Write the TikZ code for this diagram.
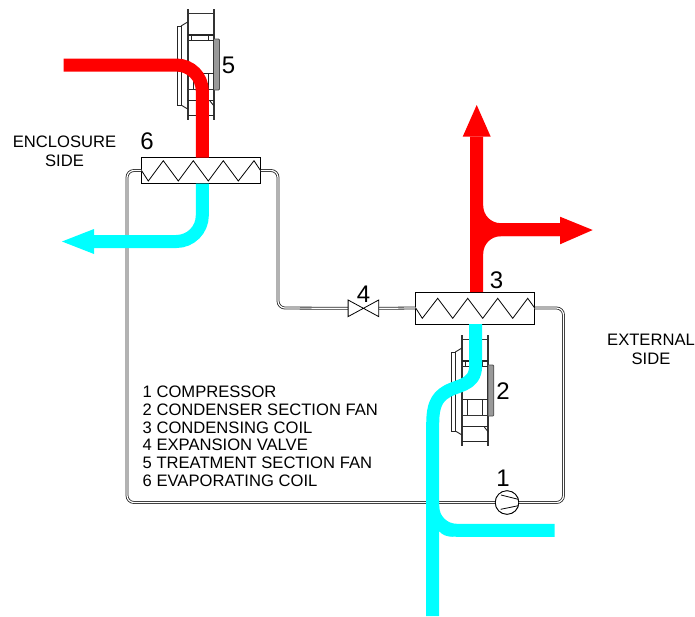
\documentclass[tikz,border=0pt]{standalone}
\usepackage{fontspec}
\setmainfont{Liberation Sans}
\begin{document}
\begin{tikzpicture}[x=1pt,y=-1pt,
  coil/.style={draw=black,line width=.8pt,fill=white,minimum width=119pt,inner sep=0pt,outer sep=0pt},
  pipe/.style={draw=black!85,line width=.8pt,double=white,double distance=1.2pt,rounded corners=7pt},
  hot/.style={draw=red,line width=13pt,rounded corners=26pt},
  cold/.style={draw=cyan,line width=13pt,rounded corners=26pt},
  zig/.style={draw=black,line width=.8pt},
  fanline/.style={draw=black!85,line width=.9pt},
  fanthick/.style={draw=black!80,line width=1.9pt},
  num/.style={font=\fontsize{24}{24}\selectfont,inner sep=0pt},
  lab/.style={font=\fontsize{16.6}{19}\selectfont,inner sep=0pt,align=center},
  legend/.style={font=\fontsize{16.6}{17.7}\selectfont,inner sep=0pt,align=left,anchor=north west}]
\definecolor{cyan}{RGB}{0,255,255}
\useasboundingbox (0,0) rectangle (695,616);
\fill[white] (0,0) rectangle (695,616);
% fans
\newcommand{\drawfan}{%
  \draw[fanthick] (187.7,9) -- (187.7,120);
  \draw[fanthick] (214,9) -- (214,120);
  \draw[fanthick] (187.7,13.5) -- (214,13.5);
  \draw[fanline] (177.5,26) rectangle (181,105);
  \draw[fanline] (181,26) -- (187.7,22);
  \draw[fanline] (181,105) -- (187.7,109);
  \draw[fanline,line width=1.2pt] (187.7,35) -- (214,35);
  \draw[fanline] (189,40) -- (214,40);
  \draw[fanline] (191,36) -- (191,40) (208.5,36) -- (208.5,40);
  \draw[draw=black!70,fill=black!40,line width=.8pt] (214,39) -- (218.5,39) -- (219.5,40) -- (219.5,89) -- (218.5,90) -- (214,90);
  \draw[fanthick] (187.7,89.5) -- (214,89.5);
  \draw[fanline] (193,73) -- (193,89) (208,73) -- (208,89) (189,73) -- (214,73);
  \draw[fanline] (187.7,100) -- (214,100);
  \draw[fanline] (187.7,115.5) -- (214,115.5);
  \draw[fanline] (210,101) -- (214,106);
}
\begin{scope}\drawfan\end{scope}
\begin{scope}[shift={(274.3,326)}]\drawfan\end{scope}
% components
\node[coil,minimum height=26pt] (c6) at (201,170.5) {};
\node[coil,minimum height=32pt] (c3) at (475.2,308) {};
\node[minimum width=30.6pt,minimum height=16.6pt,inner sep=0pt,outer sep=0pt] (v4) at (363.4,308.3) {};
\node[circle,draw=black,fill=white,line width=.8pt,minimum size=23.5pt,inner sep=0pt,outer sep=0pt] (k1) at (507,502.5) {};
% pipes
\draw[pipe] (c6.west) -- (127,170.5) -- (127,502.5) -- (k1.west);
\draw[pipe] (k1.east) -- (563.5,502.5) -- (563.5,308) -- (c3.east);
\draw[pipe] (c3.west) -- (v4.east);
\draw[pipe] (v4.west) -- (278,308) -- (278,170.5) -- (c6.east);
% redraw compressor and valve over pipes
\node[circle,draw=black,fill=white,line width=.8pt,minimum size=23.5pt,inner sep=0pt] at (k1) {};
\draw[zig] (501,495) -- (518.3,499.3) (500.7,509.3) -- (518.3,505.7);
\draw[zig,fill=white] (v4.north west) -- (v4.south east) -- (v4.north east) -- (v4.south west) -- cycle;
% zigzags
\draw[zig] (c6.west) -- (148.3,181) -- (163.3,160.7) -- (178.3,181) -- (193.3,160.7) -- (208.3,181) -- (223.3,160.7) -- (238.3,181) -- (254,160.7) -- (c6.east);
\draw[zig] (c3.west) -- (422.3,318.3) -- (437.7,298.3) -- (452.7,318.3) -- (467.7,298.3) -- (482.7,318.3) -- (497.7,298.3) -- (512.7,318.3) -- (527.7,298.3) -- (c3.east);
% air flows
\coordinate (a5) at (63.5,65);
\coordinate (a5b) at (202.3,65);
\coordinate (a6) at (94,241.5);
\coordinate (a6b) at (202.3,241.5);
\draw[hot] (a5) -- (a5b) -- (a5b |- c6.north);
\draw[cold] (a5b |- c6.south) -- (a6b) -- (a6);
\fill[cyan] (94,229) -- (62,241.5) -- (94,254) -- cycle;
\coordinate (u3) at (476.7,136.5);
\coordinate (r3) at (560,229.7);
\coordinate (r3b) at (476.7,229.7);
\draw[draw=red,line width=13pt] (u3) -- (u3 |- c3.north);
\draw[hot,rounded corners=24pt] (r3b |- c3.north) -- (r3b) -- (r3);
\draw[hot,rounded corners=24pt] (u3) -- (r3b) -- (r3);
\fill[red] (462.7,136.7) -- (476.7,105) -- (490.7,136.7) -- cycle;
\fill[red] (560,216.7) -- (592.7,230) -- (560,244.3) -- cycle;
\coordinate (s1) at (475.7,365);
\draw[draw=cyan,line width=13pt,line join=round] (475.7,324) -- (s1) .. controls (475.7,388) and (455,384) .. (443,394) .. controls (434,401) and (432.7,412) .. (432.7,425) -- (432.7,616);
\draw[cold,rounded corners=24pt] (432.7,500) -- (432.7,530.3) -- (554.7,530.3);
\fill[cyan] (439,531) .. controls (442,535) and (447,536.8) .. (453.3,536.8) -- (453.3,530) -- cycle;
% labels
\node[num] (n5) at (228.5,65) {5};
\node[num] (n6) at (147,141.5) {6};
\node[num] (n3) at (496.5,280) {3};
\node[num] (n4) at (363.5,294.5) {4};
\node[num] (n2) at (503,391) {2};
\node[num] (n1) at (503,478.5) {1};
\node[lab] at (64.5,151) {ENCLOSURE\\SIDE};
\node[lab] at (651,349.5) {EXTERNAL\\SIDE};
\node[legend] at (142.5,386) {1 COMPRESSOR\\2 CONDENSER SECTION FAN\\3 CONDENSING COIL\\4 EXPANSION VALVE\\5 TREATMENT SECTION FAN\\6 EVAPORATING COIL};
\end{tikzpicture}
\end{document}
